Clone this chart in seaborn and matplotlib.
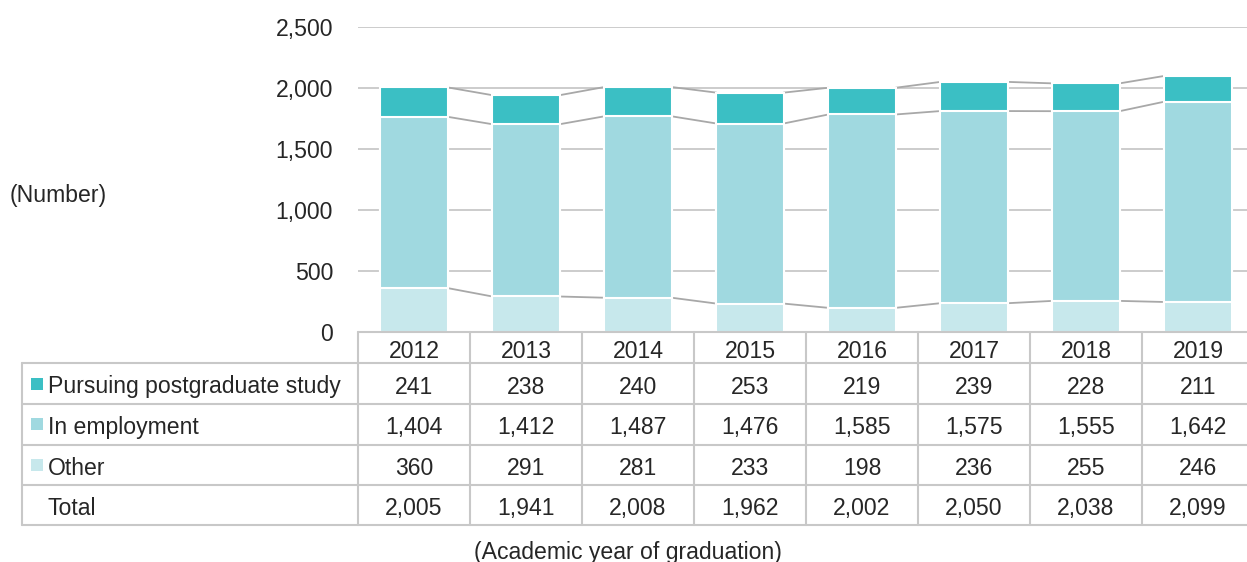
import matplotlib
matplotlib.use("Agg")
import matplotlib.pyplot as plt
import seaborn as sns
import numpy as np

years = ['2012', '2013', '2014', '2015', '2016', '2017', '2018', '2019']
postgrad = [241, 238, 240, 253, 219, 239, 228, 211]
employment = [1404, 1412, 1487, 1476, 1585, 1575, 1555, 1642]
other = [360, 291, 281, 233, 198, 236, 255, 246]
totals = [2005, 1941, 2008, 1962, 2002, 2050, 2038, 2099]

series_names = ['Pursuing postgraduate study', 'In employment', 'Other']
colors = ['#3BBFC4', '#A0D9E0', '#C7E8EC']

sns.set_theme(style='white')
plt.rcParams['font.family'] = ['Liberation Sans', 'DejaVu Sans']
txt = '#262626'
line_c = '#C8C8C8'
fs = 16.6

W, H = 1247, 562
fig = plt.figure(figsize=(W / 100, H / 100), dpi=100)

# main chart area in pixels
x0, y0, cw = 358, 332, 112
x1 = x0 + cw * len(years)
ytop = 27
ax = fig.add_axes([x0 / W, 1 - y0 / H, (x1 - x0) / W, (y0 - ytop) / H])

low = np.array(other)
mid = low + np.array(employment)
top = mid + np.array(postgrad)

# draw back to front so stacks look right
for vals, col in [(top, colors[0]), (mid, colors[1]), (low, colors[2])]:
    sns.barplot(x=years, y=vals, color=col, width=0.6, edgecolor='white',
                linewidth=1.5, ax=ax, zorder=3, saturation=1)

# connector lines between stacked segments
for vals in [low, mid, top]:
    for i in range(len(years) - 1):
        ax.plot([i + 0.3, i + 0.7], [vals[i], vals[i + 1]], color='#A8A8A8',
                lw=1.3, zorder=2)

ax.set_xlim(-0.5, len(years) - 0.5)
ax.set_ylim(0, 2500)
ax.set_yticks(range(0, 2501, 500))
for t in range(500, 2501, 500):
    ax.axhline(t, color=line_c, lw=1.3, zorder=1)
ax.set_yticklabels([f'{t:,}' for t in range(0, 2501, 500)], fontsize=fs, color=txt)
ax.tick_params(axis='y', length=0, pad=18)
ax.set_xticks([])
ax.set_xlabel('')
ax.set_ylabel('')
for s in ax.spines.values():
    s.set_visible(False)

# table drawn in pixel space
tb = fig.add_axes([0, 0, 1, 1])
tb.set_xlim(0, W)
tb.set_ylim(H, 0)
tb.axis('off')

rows = [332, 363, 404, 444.5, 485, 525]
left = 22
lk = dict(color=line_c, lw=1.5, zorder=1)
tb.plot([x0, W], [rows[0], rows[0]], **lk)
for r in rows[1:]:
    tb.plot([left, W], [r, r], **lk)
tb.plot([left, left], [rows[1], rows[-1]], **lk)
for k in range(len(years)):
    tb.plot([x0 + k * cw, x0 + k * cw], [rows[0], rows[-1]], **lk)

for k, yr in enumerate(years):
    tb.text(x0 + (k + 0.5) * cw, (rows[0] + rows[1]) / 2 + 1, yr, ha='center',
            va='center_baseline', fontsize=fs, color=txt)

table_rows = [postgrad, employment, other, totals]
labels = series_names + ['Total']
for r, (lab, vals) in enumerate(zip(labels, table_rows)):
    yc = (rows[r + 1] + rows[r + 2]) / 2
    if r < 3:
        tb.add_patch(plt.Rectangle((31, yc - 6), 12, 12, color=colors[r], lw=0))
    tb.text(48, yc + 1, lab, ha='left', va='center_baseline', fontsize=fs, color=txt)
    for k, v in enumerate(vals):
        tb.text(x0 + (k + 0.5) * cw, yc + 1, f'{v:,}', ha='center',
                va='center_baseline', fontsize=fs, color=txt)

tb.text(10, 193, '(Number)', ha='left', va='center_baseline', fontsize=fs, color=txt)
tb.text(628, 550, '(Academic year of graduation)', ha='center',
        va='center_baseline', fontsize=fs, color=txt)

fig.savefig('out.png', dpi=100)
